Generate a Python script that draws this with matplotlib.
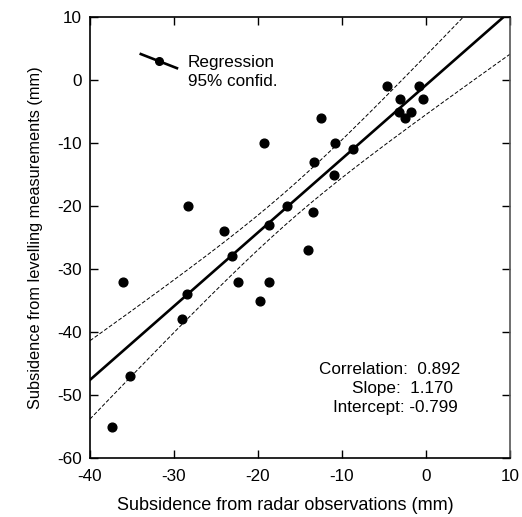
import numpy as np
import matplotlib
matplotlib.use("Agg")
import matplotlib.pyplot as plt

plt.rcParams['font.family'] = ['Liberation Sans', 'DejaVu Sans']
plt.rcParams['axes.unicode_minus'] = False

radar = [-4.7, -0.8, -3.1, -0.4, -3.2, -1.8, -2.5, -12.5, -19.3, -10.8, -8.65, -13.3,
         -10.95, -28.3, -16.6, -13.5, -18.7, -24.0, -14.0, -23.1, -36.1, -22.4, -18.7,
         -28.4, -19.8, -29.05, -35.2, -37.35]
levelling = [-1, -1, -3, -3, -5, -5, -6, -6, -10, -10, -11, -13, -15, -20, -20, -21, -23,
             -24, -27, -28, -32, -32, -32, -34, -35, -38, -47, -55]
slope = 1.170
intercept = -0.799
correlation = 0.892
x_ticks = [-40, -30, -20, -10, 0, 10]
y_ticks = [-60, -50, -40, -30, -20, -10, 0, 10]

x = np.array(radar)
y = np.array(levelling)
n = len(x)
xs = np.linspace(-40, 10, 200)
yhat = intercept + slope * xs
resid = y - (intercept + slope * x)
s = np.sqrt(np.sum(resid ** 2) / (n - 2))
sxx = np.sum((x - x.mean()) ** 2)
t = 2.056
half = t * s * np.sqrt(1.0 / n + (xs - x.mean()) ** 2 / sxx)

FS = 12.3

fig = plt.figure(figsize=(5.22, 5.17), dpi=100)
ax = fig.add_axes([0.1724, 0.1141, 0.8046, 0.853])

ax.plot(xs, yhat, color='black', lw=1.9, zorder=3)
ax.plot(xs, yhat + half, color='black', lw=0.7, ls=(0, (4, 2)), zorder=2)
ax.plot(xs, yhat - half, color='black', lw=0.7, ls=(0, (4, 2)), zorder=2)
ax.plot(x, y, 'o', color='black', ms=6.3, zorder=4)

ax.set_xlim(-40, 10)
ax.set_ylim(-60, 10)
ax.set_xticks(x_ticks)
ax.set_yticks(y_ticks)
ax.tick_params(direction='in', length=6, width=1, top=True, right=True,
               labelsize=FS, pad=6)
ax.tick_params(axis='x', pad=8)
for sp in ax.spines.values():
    sp.set_linewidth(1.2)
ax.spines['right'].set_color('#555555')
ax.set_xlabel('Subsidence from radar observations (mm)', fontsize=13)
ax.xaxis.set_label_coords(0.464, -0.088)
ax.set_ylabel('Subsidence from levelling measurements (mm)', fontsize=11.8, labelpad=10)

# legend glyph
ax.plot([0.121, 0.207], [0.916, 0.884], transform=ax.transAxes, color='black', lw=1.9)
ax.plot([0.164], [0.900], 'o', transform=ax.transAxes, color='black', ms=5.5)
ax.text(0.233, 0.875, 'Regression\n95% confid.', transform=ax.transAxes,
        fontsize=FS, va='center', ha='left', linespacing=1.3)

ax.text(0.881, 0.2018, 'Correlation:  %.3f' % correlation, transform=ax.transAxes,
        fontsize=FS, ha='right', va='center')
ax.text(0.864, 0.1587, 'Slope:  %.3f' % slope, transform=ax.transAxes,
        fontsize=FS, ha='right', va='center')
ax.text(0.876, 0.1156, 'Intercept: %.3f' % intercept, transform=ax.transAxes,
        fontsize=FS, ha='right', va='center')

fig.savefig('out.png', dpi=100)
